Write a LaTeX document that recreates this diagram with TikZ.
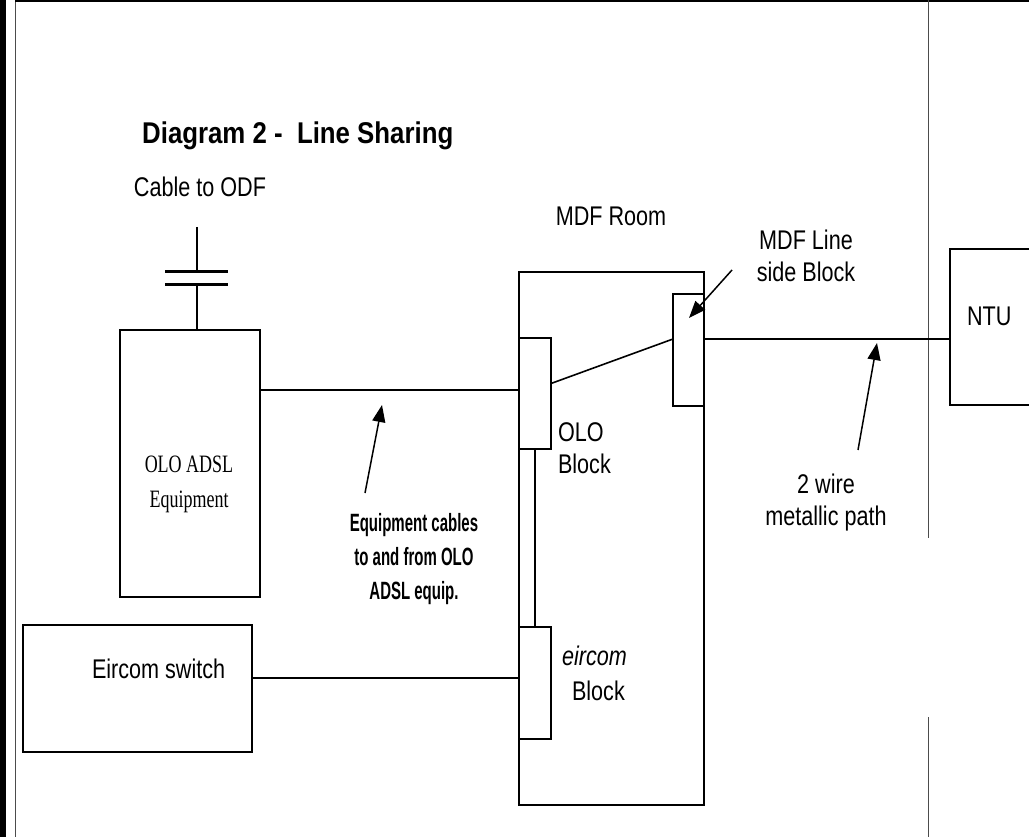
\documentclass[tikz,border=0pt]{standalone}
\usepackage{fontspec}
\usetikzlibrary{arrows.meta}
\newfontfamily\rsans[FakeStretch=0.8]{Liberation Sans}
\newfontfamily\tsans[FakeStretch=0.86]{Liberation Sans}
\newfontfamily\nsans[FakeStretch=0.6]{Liberation Sans}
\newfontfamily\rserif[FakeStretch=0.72]{Liberation Serif}
\tikzset{
  box/.style={draw, line width=1.6pt, inner sep=0pt, outer sep=0pt, anchor=north west},
  wire/.style={line width=1.6pt},
  pointer/.style={line width=1.5pt, -{Triangle[length=17pt,width=13pt]}},
  lbl/.style={inner sep=0pt, outer sep=0pt, font=\rsans\fontsize{27}{32}\selectfont},
  plate/.style={line width=3pt},
  frame/.style={line width=1pt, draw=black!70}
}
\begin{document}
\begin{tikzpicture}[x=1pt,y=-1pt]
\useasboundingbox (0,0) rectangle (1029,837);
\clip (0,0) rectangle (1029,837);
% page frame
\fill[black] (0,0) rectangle (6,837);
\draw[frame] (15,0) -- (15,837);
\draw[line width=2.5pt] (15,1) -- (1029,1);
\draw[frame] (928,0) -- (928,538);
\draw[frame] (928,717) -- (928,837);

% title
\node[inner sep=0pt, anchor=base west, font=\tsans\bfseries\fontsize{30}{34}\selectfont] (title) at (142,144) {Diagram 2 -~~Line Sharing};

% boxes
\node[box, minimum width=140, minimum height=267] (olo) at (120,330) {};
\node[box, minimum width=185, minimum height=533] (mdf) at (519,272) {};
\node[box, minimum width=32, minimum height=111] (oloblk) at (519,338) {};
\node[box, minimum width=31, minimum height=112] (lsb) at (673,294) {};
\node[box, minimum width=32, minimum height=112] (eblk) at (519,627) {};
\node[box, minimum width=229, minimum height=127] (sw) at (23,625) {};
\node[box, minimum width=120, minimum height=156] (ntu) at (950,249) {};

% labels
\node[lbl, anchor=north] (cablbl) at (200,177) {Cable to ODF};
\node[lbl, anchor=north] (mdflbl) at (611,207) {MDF Room};
\node[lbl, anchor=north, align=center] (lsblbl) at (806,230) {MDF Line\\side Block};
\node[lbl, anchor=base west] (ntulbl) at (967,326) {NTU};
\node[lbl, anchor=north west, align=left] (ololbl) at (558,423) {OLO\\Block};
\node[lbl, anchor=north, align=center] (wirelbl) at (826,474) {2 wire\\metallic path};
\node[lbl, anchor=base west] (swlbl) at (92,678) {Eircom switch};
\node[lbl, anchor=base west, font=\rsans\itshape\fontsize{27}{32}\selectfont] (elbl) at (562,665) {eircom};
\node[lbl, anchor=base west] (eblklbl) at (572,700) {Block};
\node[inner sep=0pt, anchor=north, align=center, font=\rserif\fontsize{25}{35}\selectfont] (adsllbl) at (189,456) {OLO ADSL\\Equipment};
\node[inner sep=0pt, anchor=north, align=center, font=\nsans\bfseries\fontsize{25}{34}\selectfont] (eqlbl) at (414,513) {Equipment cables\\to and from OLO\\ADSL equip.};

% capacitor (cable to ODF)
\coordinate (capt) at (197,227);
\coordinate (capa) at (197,272);
\coordinate (capb) at (197,285);
\draw[wire] (capt) -- (capa);
\draw[plate] ([xshift=-32pt]capa) -- ([xshift=31pt]capa);
\draw[plate] ([xshift=-32pt]capb) -- ([xshift=31pt]capb);
\draw[wire] (capb) -- (capb |- olo.north);

% connectors
\draw[wire] ([yshift=3.5pt]oloblk.west -| olo.east) -- ([yshift=3.5pt]oloblk.west);
\draw[wire] ([yshift=10pt]oloblk.east) -- ([yshift=11pt]lsb.west);
\draw[wire] ([yshift=11pt]lsb.east) -- ([yshift=11pt]lsb.east -| ntu.west);
\draw[wire] (oloblk.south) -- (eblk.north);
\draw[wire] ([yshift=5pt]eblk.west -| sw.east) -- ([yshift=5pt]eblk.west);

% pointer arrows
\coordinate (p1t) at (365,493);
\coordinate (p1h) at (382,405);
\coordinate (p2t) at (858,450);
\coordinate (p2h) at (877,343);
\coordinate (p3t) at (732,270);
\coordinate (p3h) at (689,318);
\draw[pointer] (p1t) -- (p1h);
\draw[pointer] (p2t) -- (p2h);
\draw[pointer] (p3t) -- (p3h);
\end{tikzpicture}
\end{document}
